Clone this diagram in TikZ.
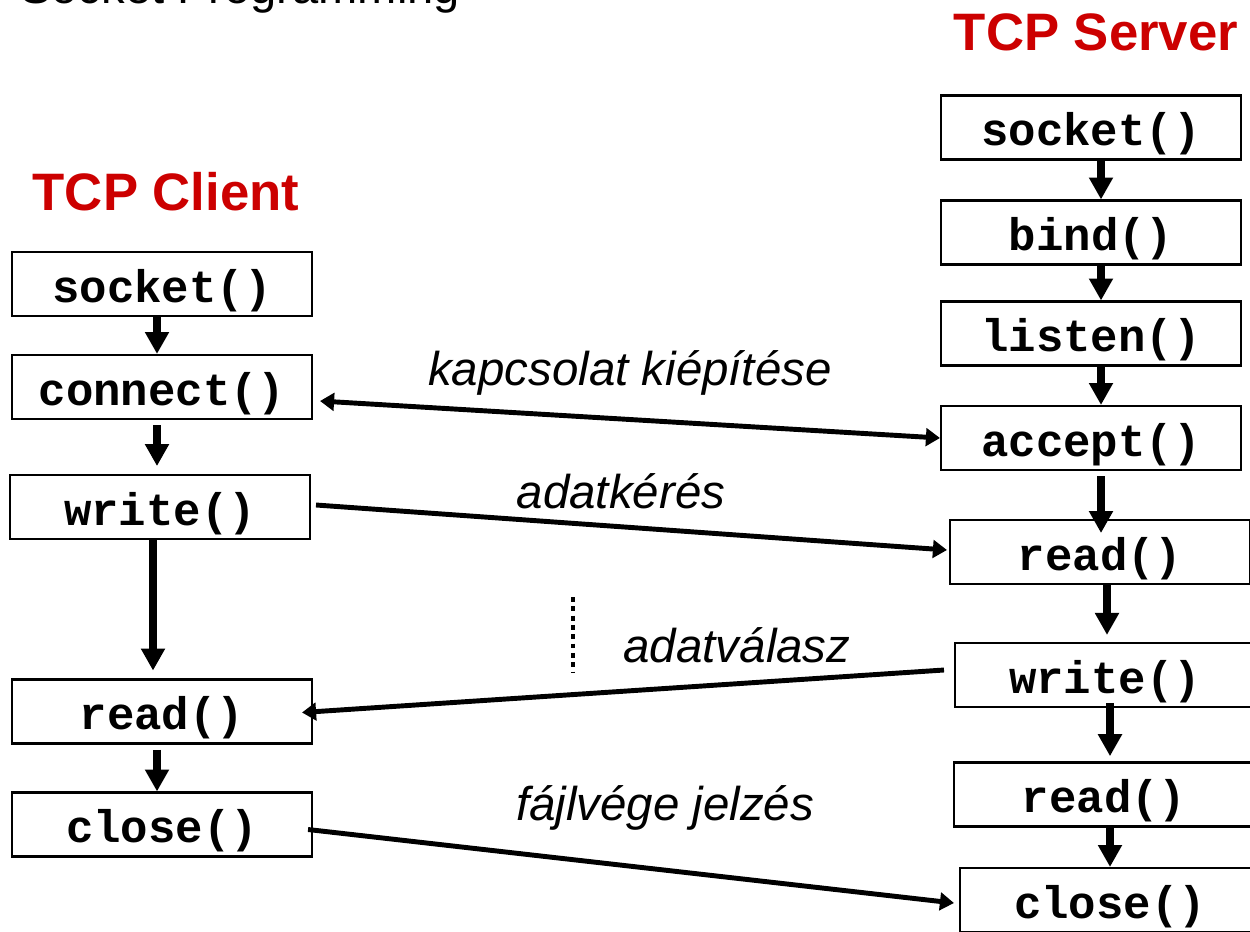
\documentclass[tikz,border=0pt]{standalone}
\usepackage{fontspec}
\setmainfont{Liberation Sans}
\setmonofont{Liberation Mono}
\usetikzlibrary{arrows.meta}
\definecolor{titlered}{RGB}{204,0,0}

\begin{document}
\begin{tikzpicture}[x=0.02cm, y=-0.02cm,
  call/.style={draw, line width=1.2pt, minimum width=6cm, minimum height=1.28cm, inner sep=0pt, text height=24pt, text depth=3pt, font=\ttfamily\bfseries\fontsize{26}{30}\selectfont},
  side/.style={anchor=base, inner sep=0pt, text=titlered, font=\bfseries\fontsize{30}{36}\selectfont},
  msg/.style={anchor=base, inner sep=0pt, font=\itshape\fontsize{27}{32}\selectfont},
  flow/.style={>={Triangle[length=12.5pt, width=13pt]}, ->, line width=4.2pt},
  talk/.style={>={Triangle[length=8pt, width=10pt]}, ->, line width=2.8pt}]
  \useasboundingbox (0,0) rectangle (1250,931);
  \clip (0,0) rectangle (1250,931);
  \node [anchor=base west, inner sep=0pt, font=\fontsize{26.8}{32}\selectfont] (title) at (20,3) {Socket Programming};
  \node [side] (client) at (166,210) {TCP Client};
  \node [side] (server) at (1096,50) {TCP Server};
  \node [call] (csocket) at (162,284) {socket()};
  \node [call] (cconnect) at (162,387) {connect()};
  \node [call] (cwrite) at (160,507) {write()};
  \node [call] (cread) at (162,711.5) {read()};
  \node [call] (cclose) at (162,824.5) {close()};
  \node [call] (ssocket) at (1091,127.5) {socket()};
  \node [call] (sbind) at (1091,232.5) {bind()};
  \node [call] (slisten) at (1091,333.5) {listen()};
  \node [call] (saccept) at (1091,438) {accept()};
  \node [call] (sread) at (1100,552) {read()};
  \node [call] (swrite) at (1105,675) {write()};
  \node [call] (sreadend) at (1104,794.5) {read()};
  \node [call] (sclose) at (1110,900) {close()};
  \coordinate (ccol) at (157,0);
  \coordinate (cshaft) at (153,0);
  \coordinate (scol) at (1101,0);
  \coordinate (scolb) at (1107,0);
  \coordinate (scolc) at (1110,0);
  \draw [flow] (csocket.south -| ccol) -- (cconnect.north -| ccol);
  \draw [flow, shorten <=3pt, shorten >=4.5pt] (cconnect.south -| ccol) -- (cwrite.north -| ccol);
  \draw [flow, shorten >=4.5pt] (cwrite.south -| cshaft) -- (cread.north -| cshaft);
  \draw [flow, shorten <=3pt] (cread.south -| ccol) -- (cclose.north -| ccol);
  \draw [flow] (ssocket.south -| scol) -- (sbind.north -| scol);
  \draw [flow] (sbind.south -| scol) -- (slisten.north -| scol);
  \draw [flow] (slisten.south -| scol) -- (saccept.north -| scol);
  \draw [flow, shorten <=3pt, shorten >=-8pt] (saccept.south -| scol) -- (sread.north -| scol);
  \draw [flow, shorten >=4pt] (sread.south -| scolb) -- (swrite.north -| scolb);
  \draw [flow, shorten <=-3pt, shorten >=3pt] (swrite.south -| scolc) -- (sreadend.north -| scolc);
  \draw [flow] (sreadend.south -| scolc) -- (sclose.north -| scolc);
  \draw [talk, <->] ([shift={(7,14)}]cconnect.east) -- (saccept.west);
  \draw [talk] ([shift={(5,-2)}]cwrite.east) -- ([shift={(-2,-2)}]sread.west);
  \draw [talk] ([shift={(-10,-5)}]swrite.west) -- ([shift={(-11,1)}]cread.east);
  \draw [talk] ([shift={(-5,5)}]cclose.east) -- ([shift={(-5,3)}]sclose.west);
  \draw [line width=2.3pt, dash pattern=on 2.8pt off 2.5pt] (573,597) -- (573,672);
  \node [msg] (setup) at (630,385) {kapcsolat kiépítése};
  \node [msg] (request) at (621,508) {adatkérés};
  \node [msg] (reply) at (737,662) {adatválasz};
  \node [msg] (eof) at (665,820) {fájlvége jelzés};
\end{tikzpicture}
\end{document}
